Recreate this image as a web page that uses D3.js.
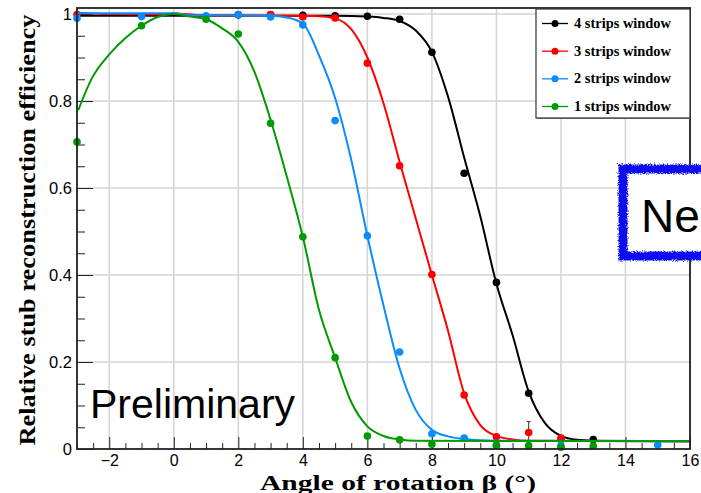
<!DOCTYPE html>
<html><head><meta charset="utf-8">
<script src="https://cdn.jsdelivr.net/npm/d3@7"></script>
<style>body{margin:0;background:#fff;} svg{display:block;}</style>
</head><body>
<svg id="c" width="701" height="493"></svg>
<script>
// ---------- data ----------
const seriesNames = ["4 strips window","3 strips window","2 strips window","1 strips window"];
const seriesColors = ["#000000","#ff0000","#0a8cff","#009a00"];

const x4 = [2,3,4,5,6,7,8,9,10,11,12,13];
const y4 = [0.998,0.998,0.997,0.996,0.995,0.988,0.912,0.634,0.383,0.128,0.022,0.022];
const x3 = [-3,3,4,5,6,7,8,9,10,11,12];
const y3 = [0.999,0.999,0.993,0.991,0.887,0.651,0.401,0.124,0.028,0.038,0.025];
const e3 = [0,0,0,0,0,0,0,0,0,0.025,0];
const x2 = [-3,-1,1,2,3,4,5,6,7,8,9,10,12,15];
const y2 = [0.99,0.994,0.996,0.999,0.993,0.975,0.755,0.49,0.223,0.035,0.025,0.009,0.008,0.009];
const x1 = [-3,-1,1,2,3,4,5,6,7,8,10,11,12,13];
const y1 = [0.706,0.973,0.988,0.954,0.749,0.488,0.21,0.03,0.021,0.011,0.008,0.008,0.004,0.007];

// fitted curves
const fitX4 = [-3,5,6,6.5,7,7.5,8,8.5,9,9.5,10,10.5,11,11.5,12,12.5,13,16];
const fitY4 = [0.996,0.996,0.994,0.991,0.984,0.962,0.913,0.81,0.67,0.535,0.38,0.262,0.132,0.06,0.03,0.021,0.019,0.018];
const fitX3 = [-3,-2,-0.3,0,0.3,1,4,4.5,5,5.5,6,6.5,7,7.5,8,8.5,9,9.5,10,10.5,11,16];
const fitY3 = [1.003,1.0,0.999,1.002,1.0,0.997,0.996,0.995,0.99,0.965,0.9,0.795,0.66,0.53,0.40,0.272,0.128,0.055,0.03,0.022,0.019,0.018];
const fitX2 = [-3,0,0.5,3,3.5,4,4.5,5,5.5,6,6.5,7,7.5,8,8.5,9,9.5,10,16];
const fitY2 = [1.0015,1.0015,0.997,0.996,0.992,0.978,0.905,0.807,0.665,0.49,0.33,0.185,0.09,0.044,0.029,0.023,0.02,0.019,0.018];
const fitX1 = [-2.96,-2.54,-2,-1.5,-1,-0.5,0,0.5,1,1.5,2,2.5,3,3.5,4,4.5,5,5.5,6,6.5,7,7.5,16];
const fitY1 = [0.779,0.852,0.907,0.945,0.973,0.993,1.0,0.994,0.988,0.967,0.936,0.867,0.757,0.627,0.488,0.32,0.21,0.108,0.052,0.03,0.022,0.019,0.018];

const xTicks = [-2,0,2,4,6,8,10,12,14,16];
const yTicks = [0,0.2,0.4,0.6,0.8,1];
const xTitle = "Angle of rotation  \u03b2 (\u00b0)";
const yTitle = "Relative stub reconstruction efficiency";
const watermark = "Preliminary";
const stamp = "Ne";

// ---------- drawing ----------
const svg = d3.select("#c");
svg.append("rect").attr("width",701).attr("height",493).attr("fill","#fff");

const L=77, R=690, T=8, B=449;
const x = d3.scaleLinear().domain([-3,16]).range([L,R]);
const y = d3.scaleLinear().domain([0,1.0138]).range([B,T]);

// grid
const grid = svg.append("g").attr("stroke","#d4d4d4").attr("stroke-width",1.5);
grid.selectAll("line.gx").data(xTicks).join("line")
  .attr("x1",d=>x(d)).attr("x2",d=>x(d)).attr("y1",T).attr("y2",B);
grid.selectAll("line.gy").data(yTicks.filter(d=>d>0)).join("line")
  .attr("x1",L).attr("x2",R).attr("y1",d=>y(d)).attr("y2",d=>y(d));

// axes (ticks inside the frame)
const xMinor = d3.range(-3,16.001,0.5).filter(v=>!xTicks.includes(v));
const xAxis = d3.axisBottom(x).tickValues(xTicks).tickSize(-12).tickPadding(6)
  .tickFormat(d=>d3.format("")(d).replace("-","\u2212"));
const gx = svg.append("g").attr("transform",`translate(0,${B})`).call(xAxis);
gx.select(".domain").remove();
gx.selectAll("text").attr("font-family","'Liberation Sans',Arial,sans-serif").attr("font-size",16).attr("fill","#000");
gx.selectAll("line").attr("stroke","#222");
svg.append("g").attr("transform",`translate(0,${B})`)
  .call(d3.axisBottom(x).tickValues(xMinor).tickSize(-6).tickFormat(""))
  .call(g=>{g.select(".domain").remove(); g.selectAll("line").attr("stroke","#222");});

const yMinor = d3.range(0,1.0001,0.05).map(v=>+v.toFixed(2)).filter(v=>!yTicks.includes(v));
const yAxis = d3.axisLeft(y).tickValues(yTicks).tickSize(-16).tickPadding(5)
  .tickFormat(d=>d3.format("")(d));
const gy = svg.append("g").attr("transform",`translate(${L},0)`).call(yAxis);
gy.select(".domain").remove();
gy.selectAll("text").attr("font-family","'Liberation Sans',Arial,sans-serif").attr("font-size",16.5).attr("fill","#000");
gy.selectAll("line").attr("stroke","#222");
svg.append("g").attr("transform",`translate(${L},0)`)
  .call(d3.axisLeft(y).tickValues(yMinor).tickSize(-8).tickFormat(""))
  .call(g=>{g.select(".domain").remove(); g.selectAll("line").attr("stroke","#222");});

// series
const pts = [[x4,y4,null],[x3,y3,e3],[x2,y2,null],[x1,y1,null]];
const fits = [[fitX4,fitY4],[fitX3,fitY3],[fitX2,fitY2],[fitX1,fitY1]];
const line = d3.line().x(d=>x(d[0])).y(d=>y(d[1])).curve(d3.curveMonotoneX);
const plot = svg.append("g");
pts.forEach((s,i)=>{
  const data = s[0].map((v,k)=>({x:v,y:s[1][k],e:s[2]?s[2][k]:0}));
  const g = plot.append("g");
  data.filter(d=>d.e>0).forEach(d=>{
    g.append("line").attr("x1",x(d.x)).attr("x2",x(d.x)).attr("y1",y(d.y-d.e)).attr("y2",y(d.y+d.e))
      .attr("stroke","#333").attr("stroke-width",1);
    g.append("line").attr("x1",x(d.x)-2).attr("x2",x(d.x)+2).attr("y1",y(d.y+d.e)).attr("y2",y(d.y+d.e))
      .attr("stroke","#333").attr("stroke-width",1);
  });
  g.selectAll("circle").data(data).join("circle")
    .attr("cx",d=>x(d.x)).attr("cy",d=>y(d.y)).attr("r",3.8).attr("fill",seriesColors[i]);
  const f = fits[i][0].map((v,k)=>[v,fits[i][1][k]]);
  g.append("path").datum(f).attr("d",line).attr("fill","none")
    .attr("stroke",seriesColors[i]).attr("stroke-width",2);
});

// frame
svg.append("rect").attr("x",L).attr("y",T).attr("width",R-L).attr("height",B-T)
  .attr("fill","none").attr("stroke","#222").attr("stroke-width",1.8);

// titles
svg.append("text").attr("x",398).attr("y",489.5).attr("text-anchor","middle")
  .attr("font-family","'Liberation Serif','Times New Roman',serif").attr("font-weight","bold")
  .attr("font-size",21).attr("textLength",276).attr("lengthAdjust","spacingAndGlyphs").text(xTitle);
svg.append("text").attr("transform","translate(35,230) rotate(-90)").attr("text-anchor","middle")
  .attr("font-family","'Liberation Serif','Times New Roman',serif").attr("font-weight","bold")
  .attr("font-size",23).attr("textLength",431).attr("lengthAdjust","spacingAndGlyphs").text(yTitle);

// watermark
svg.append("text").attr("x",90).attr("y",418)
  .attr("font-family","'Liberation Sans',Arial,sans-serif").attr("font-size",41).attr("fill","#000").text(watermark);

// legend
const lg = svg.append("g");
lg.append("rect").attr("x",536).attr("y",9).attr("width",R-536).attr("height",109)
  .attr("fill","#fff").attr("stroke","#333").attr("stroke-width",1.2);
lg.append("line").attr("x1",537).attr("x2",R).attr("y1",118.5).attr("y2",118.5).attr("stroke","#555").attr("stroke-width",1.2);
const legY = d3.scalePoint().domain(seriesNames).range([23.5,106.5]);
seriesNames.forEach((n,i)=>{
  const yy = legY(n);
  lg.append("line").attr("x1",542).attr("x2",568).attr("y1",yy).attr("y2",yy).attr("stroke",seriesColors[i]).attr("stroke-width",1.3);
  lg.append("circle").attr("cx",555).attr("cy",yy).attr("r",3.5).attr("fill",seriesColors[i]);
  lg.append("text").attr("x",574).attr("y",yy+4.5)
    .attr("font-family","'Liberation Serif','Times New Roman',serif").attr("font-weight","bold")
    .attr("font-size",14).attr("textLength",97).attr("lengthAdjust","spacingAndGlyphs").text(n);
});

// sketchy blue stamp box
const defs = svg.append("defs");
const flt = defs.append("filter").attr("id","rough").attr("x","-10%").attr("y","-10%").attr("width","120%").attr("height","120%");
flt.append("feTurbulence").attr("type","fractalNoise").attr("baseFrequency",0.9).attr("numOctaves",2).attr("seed",4).attr("result","n");
flt.append("feDisplacementMap").attr("in","SourceGraphic").attr("in2","n").attr("scale",5);
svg.append("rect").attr("x",620).attr("y",166).attr("width",100).attr("height",94).attr("fill","#fff");
svg.append("rect").attr("x",623).attr("y",169).attr("width",100).attr("height",87)
  .attr("fill","none").attr("stroke","#1010ee").attr("stroke-width",9).attr("filter","url(#rough)");
svg.append("text").attr("x",641).attr("y",232)
  .attr("font-family","'Liberation Sans',Arial,sans-serif").attr("font-size",46).attr("fill","#000").text(stamp);
</script>
</body></html>
